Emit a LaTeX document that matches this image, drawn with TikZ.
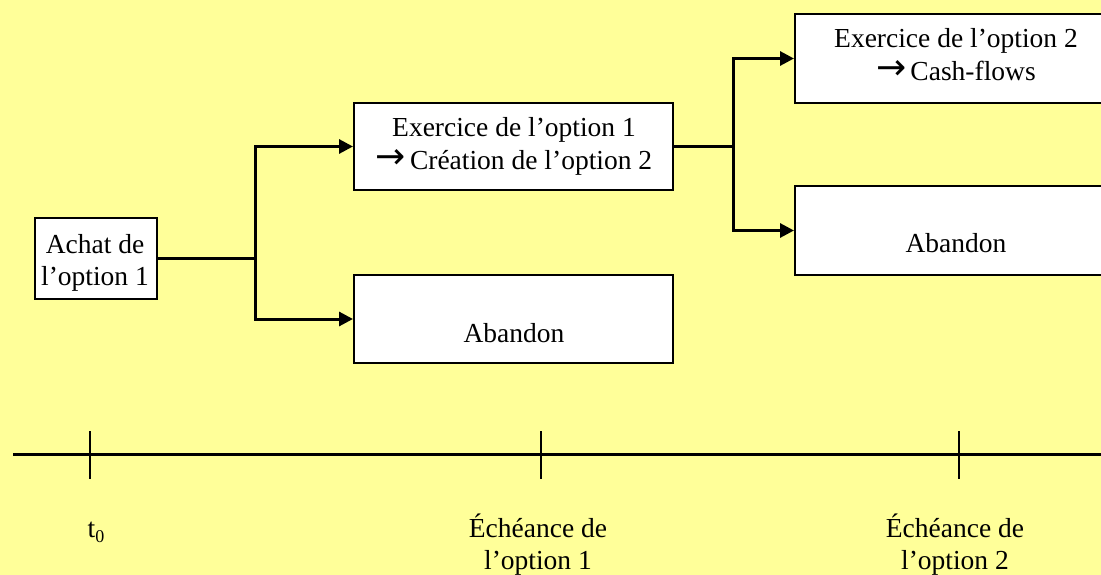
\documentclass[tikz,border=0pt]{standalone}
\usepackage{fontspec}
\setmainfont{Liberation Serif}
\newfontfamily\arrowfont{DejaVu Sans}
\newcommand{\bigarrow}{\raisebox{1pt}{\arrowfont\fontsize{36}{36}\selectfont →}}
\usetikzlibrary{arrows.meta}
\definecolor{bgyellow}{RGB}{255,255,153}
\tikzset{
  boxnode/.style={draw=black, line width=2pt, fill=white, rectangle, inner sep=0pt, minimum width=319pt, minimum height=88pt},
  txt/.style={font=\fontsize{27.5}{33}\selectfont, inner sep=0pt, anchor=base},
  conn/.style={line width=3pt, line cap=rect},
  arr/.style={line width=3pt, -{Triangle[length=14pt 0,width=14pt 0]}},
  axis/.style={line width=3pt},
  tickmark/.style={line width=2pt}
}
\begin{document}
\begin{tikzpicture}[x=1pt,y=-1pt]
\fill[bgyellow] (0,0) rectangle (1101,575);
\useasboundingbox (0,0) rectangle (1101,575);
\clip (0,0) rectangle (1101,575);
% boxes
\node[boxnode, minimum width=122pt, minimum height=81pt] (achat) at (96,258.5) {};
\node[txt] (achatA) at (95,253) {Achat de};
\node[txt] (achatB) at (95,285) {l’option 1};

\node[boxnode, minimum height=87pt] (ex1) at (513.5,146.5) {};
\node[txt] (ex1A) at (514,137) {Exercice de l’option 1};
\node[txt] (ex1B) at (514,170) {\bigarrow\hspace{4pt}Création de l’option 2};

\node[boxnode] (ab1) at (513.5,319) {};
\node[txt] (ab1A) at (514,342) {Abandon};

\node[boxnode, minimum width=320pt, minimum height=89pt] (ex2) at (955,58.5) {};
\node[txt] (ex2A) at (956,48) {Exercice de l’option 2};
\node[txt] (ex2B) at (956,81) {\bigarrow\hspace{4pt}Cash-flows};

\node[boxnode, minimum width=320pt, minimum height=89pt] (ab2) at (955,230.5) {};
\node[txt] (ab2A) at (956,252) {Abandon};

% connectors
\coordinate (j1) at (255,258.5);
\coordinate (j1t) at (255,146.5);
\coordinate (j1b) at (255,319);
\draw[conn] (achat.east) -- (j1);
\draw[conn] (j1t) -- (j1b);
\draw[arr] (j1t) -- (ex1.west);
\draw[arr] (j1b) -- (ab1.west);

\coordinate (j2) at (733,146.5);
\coordinate (j2t) at (733,58.5);
\coordinate (j2b) at (733,230.5);
\draw[conn] (ex1.east) -- (j2);
\draw[conn] (j2t) -- (j2b);
\draw[arr] (j2t) -- (ex2.west);
\draw[arr] (j2b) -- (ab2.west);

% timeline
\coordinate (tl0) at (13,454);
\coordinate (tl1) at (1101,454);
\draw[axis] (tl0) -- (tl1);
\coordinate (k0t) at (90,431); \coordinate (k0b) at (90,479);
\coordinate (k1t) at (541,431); \coordinate (k1b) at (541,479);
\coordinate (k2t) at (959,431); \coordinate (k2b) at (959,479);
\draw[tickmark] (k0t) -- (k0b);
\draw[tickmark] (k1t) -- (k1b);
\draw[tickmark] (k2t) -- (k2b);

\node[txt] (t0) at (96,537) {t\raisebox{-5pt}{\fontsize{18}{18}\selectfont 0}};
\node[txt] (e1A) at (538,537) {Échéance de};
\node[txt] (e1B) at (538,569) {l’option 1};
\node[txt] (e2A) at (955,537) {Échéance de};
\node[txt] (e2B) at (955,569) {l’option 2};
\end{tikzpicture}
\end{document}
